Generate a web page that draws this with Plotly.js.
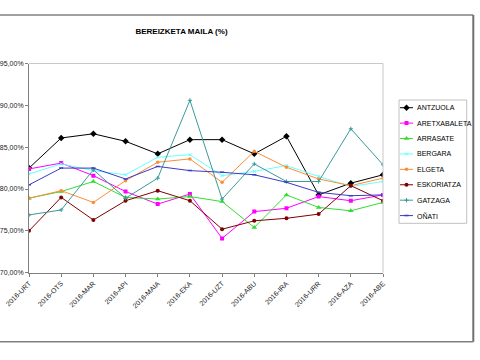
<!DOCTYPE html>
<html>
<head>
<meta charset="utf-8">
<script src="https://cdn.plot.ly/plotly-3.0.1.min.js"></script>
<style>html,body{margin:0;padding:0;background:#fff;}#chart{width:480px;height:360px;}</style>
</head>
<body>
<div id="chart"></div>
<script>
var months = ["2016-URT","2016-OTS","2016-MAR","2016-API","2016-MAIA","2016-EKA","2016-UZT","2016-ABU","2016-IRA","2016-URR","2016-AZA","2016-ABE"];
var names = ["ANTZUOLA","ARETXABALETA","ARRASATE","BERGARA","ELGETA","ESKORIATZA","GATZAGA","OÑATI"];
var antzuola     = [82.5, 86.1, 86.6, 85.7, 84.2, 85.9, 85.9, 84.2, 86.3, 79.3, 80.7, 81.7];
var aretxabaleta = [82.4, 83.1, 81.6, 79.7, 78.2, 79.4, 74.1, 77.3, 77.7, 79.1, 78.6, 79.3];
var arrasate     = [78.9, 79.7, 80.9, 79.0, 78.8, 79.1, 78.5, 75.4, 79.3, 77.8, 77.4, 78.4];
var bergara      = [81.8, 83.0, 82.2, 81.7, 83.8, 84.1, 81.6, 82.1, 82.8, 81.5, 80.3, 80.9];
var elgeta       = [78.9, 79.8, 78.4, 81.0, 83.2, 83.6, 80.8, 84.5, 82.6, 81.2, 80.4, 81.3];
var eskoriatza   = [75.0, 79.0, 76.3, 78.6, 79.8, 78.6, 75.2, 76.2, 76.5, 77.0, 80.4, 78.6];
var gatzaga      = [76.9, 77.5, 82.3, 78.9, 81.3, 90.6, 78.8, 83.0, 80.9, 80.9, 87.2, 82.9];
var onati        = [80.5, 82.5, 82.5, 81.2, 82.7, 82.2, 82.0, 81.7, 80.8, 79.6, 79.2, 79.3];
var yTicks = [70, 75, 80, 85, 90, 95];
var yTickText = ["70,00%", "75,00%", "80,00%", "85,00%", "90,00%", "95,00%"];

var values = [antzuola, aretxabaleta, arrasate, bergara, elgeta, eskoriatza, gatzaga, onati];
var styles = [
  {color:"#000000", marker:{symbol:"diamond", size:5, color:"#000000"}},
  {color:"#FF00FF", marker:{symbol:"square", size:4, color:"#FF00FF"}},
  {color:"#33DD33", marker:{symbol:"triangle-up", size:5, color:"#33DD33"}},
  {color:"#66FFFF", marker:{symbol:"x-thin-open", size:3, color:"#66FFFF", line:{width:1, color:"#66FFFF"}}},
  {color:"#FF8C33", marker:{symbol:"circle", size:3.5, color:"#FF8C33"}},
  {color:"#800000", marker:{symbol:"circle", size:4, color:"#800000"}},
  {color:"#3A9A9A", marker:{symbol:"cross-thin-open", size:3, color:"#3A9A9A", line:{width:1, color:"#3A9A9A"}}},
  {color:"#3B3BC4", marker:{symbol:"line-ew-open", size:3, color:"#3B3BC4", line:{width:1.5, color:"#3B3BC4"}}}
];

var W = 480, H = 360;
function px(x){ return x / W; }
function py(y){ return 1 - y / H; }
var plotL = 29, plotR = 383, plotT = 63.5, plotB = 272.7;
var legL = 399, legR = 466.7, legT = 100, legB = 223.3;

var traces = [];
names.forEach(function(n, i){
  traces.push({
    x: months, y: values[i], name: n, type: "scatter", mode: "lines+markers",
    line: {color: styles[i].color, width: 1}, marker: styles[i].marker,
    showlegend: false, hoverinfo: "x+y+name"
  });
});
var annotations = [];
names.forEach(function(n, i){
  traces.push({
    x: [7.5], y: [n], xaxis: "x2", yaxis: "y2", type: "scatter", mode: "markers",
    marker: styles[i].marker,
    error_x: {type: "constant", value: 6.5, width: 0, thickness: 1, color: styles[i].color},
    showlegend: false, hoverinfo: "skip"
  });
  annotations.push({
    x: 15.5, y: n, xref: "x2", yref: "y2", text: n, showarrow: false,
    xanchor: "left", yanchor: "middle", font: {size: 7, color: "#000"}
  });
});

var layout = {
  width: W, height: H,
  margin: {l: 0, r: 0, t: 0, b: 0},
  paper_bgcolor: "#fff", plot_bgcolor: "#fff",
  font: {family: "Liberation Sans, Arial, sans-serif", size: 7, color: "#000"},
  title: {text: "<b>BEREIZKETA MAILA (%)</b>", x: 181.5 / W, xref: "container", xanchor: "center",
          y: py(31), yref: "container", yanchor: "middle", font: {size: 8, color: "#000"}},
  xaxis: {
    domain: [px(plotL), px(plotR)], type: "category", categoryarray: months,
    range: [0, months.length - 1], showgrid: false, zeroline: false,
    showline: true, linecolor: "#808080", linewidth: 1,
    ticks: "outside", ticklen: 3, tickcolor: "#808080", tickangle: -45,
    tickfont: {size: 7, color: "#222"}, anchor: "y", automargin: false
  },
  yaxis: {
    domain: [py(plotB), py(plotT)], range: [70, 95], tickmode: "array",
    tickvals: yTicks, ticktext: yTickText, showgrid: false, zeroline: false,
    showline: true, linecolor: "#808080", linewidth: 1,
    ticks: "outside", ticklen: 3, tickcolor: "#808080",
    tickfont: {size: 7, color: "#222"}, anchor: "x", automargin: false
  },
  xaxis2: {domain: [px(legL), px(legR)], range: [0, legR - legL], visible: false, fixedrange: true, anchor: "y2"},
  yaxis2: {domain: [py(legB), py(legT)], type: "category", categoryarray: names,
           range: [names.length - 0.5, -0.5], visible: false, fixedrange: true, anchor: "x2"},
  annotations: annotations,
  shapes: [
    {type: "line", xref: "paper", yref: "paper", x0: px(plotL), x1: px(plotR), y0: py(plotT), y1: py(plotT), line: {color: "#c8c8c8", width: 1}},
    {type: "line", xref: "paper", yref: "paper", x0: px(plotR), x1: px(plotR), y0: py(plotT), y1: py(plotB), line: {color: "#c8c8c8", width: 1}},
    {type: "rect", xref: "paper", yref: "paper", x0: px(legL), x1: px(legR), y0: py(legB), y1: py(legT), line: {color: "#c0c0c0", width: 1}},
    {type: "line", xref: "paper", yref: "paper", x0: 0, x1: px(473.3), y0: py(15), y1: py(15), line: {color: "#808080", width: 1.5}},
    {type: "line", xref: "paper", yref: "paper", x0: px(473.3), x1: px(473.3), y0: py(15), y1: py(341.7), line: {color: "#707070", width: 2}},
    {type: "line", xref: "paper", yref: "paper", x0: 0, x1: px(473.3), y0: py(341.7), y1: py(341.7), line: {color: "#808080", width: 1.5}}
  ]
};
Plotly.newPlot("chart", traces, layout, {displayModeBar: false, staticPlot: true});
</script>
</body>
</html>
